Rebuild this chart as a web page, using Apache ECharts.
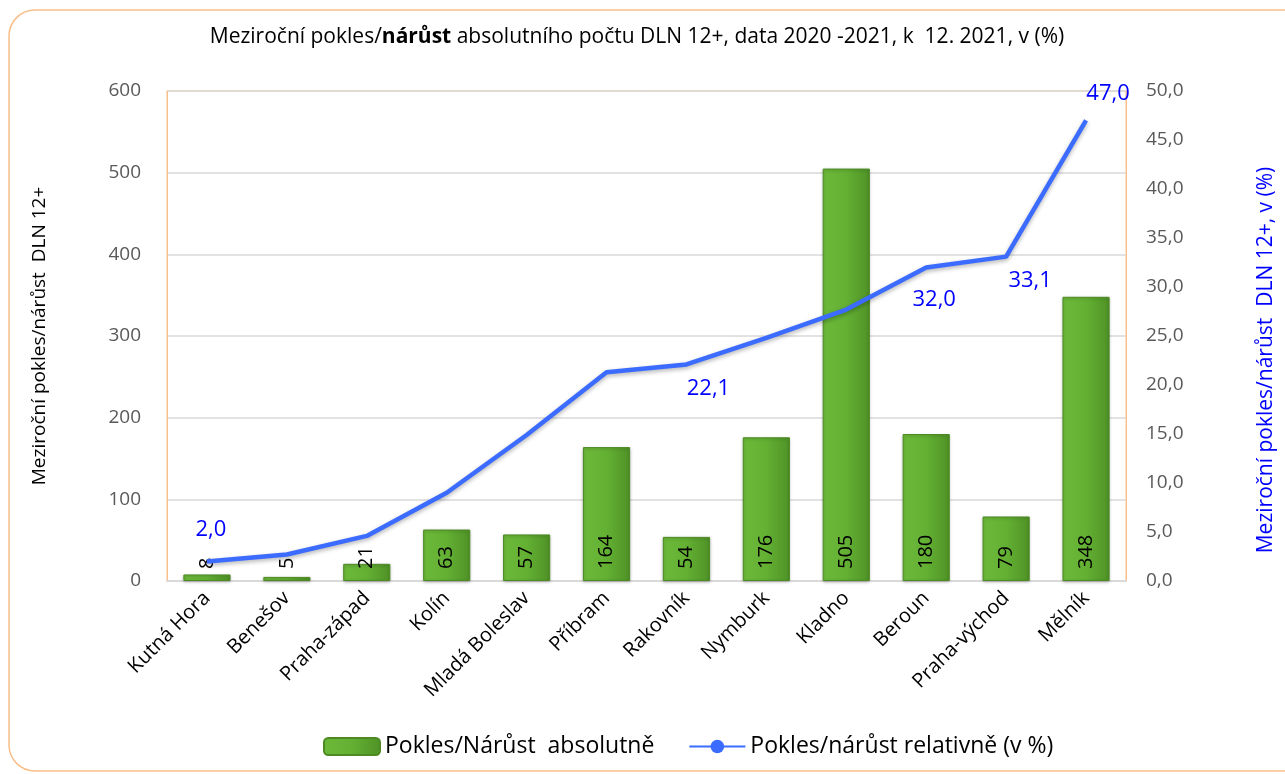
<!DOCTYPE html>
<html>
<head>
<meta charset="utf-8">
<script src="https://cdn.jsdelivr.net/npm/echarts@6/dist/echarts.min.js"></script>
<style>
  html, body { margin: 0; padding: 0; background: #fff; }
  #main { width: 1285px; height: 774px; }
</style>
</head>
<body>
<div id="main"></div>
<script>
// okresy
var categories = ["Kutná Hora", "Benešov", "Praha-západ", "Kolín", "Mladá Boleslav", "Příbram",
  "Rakovník", "Nymburk", "Kladno", "Beroun", "Praha-východ", "Mělník"];
// absolutní pokles/nárůst
var absValues = [8, 5, 21, 63, 57, 164, 54, 176, 505, 180, 79, 348];
// relativní pokles/nárůst v %
var relValues = [2.0, 2.7, 4.6, 9.0, 14.9, 21.3, 22.1, 24.8, 27.7, 32.0, 33.1, 47.0];
// které body mají popisek a kde
var relLabels = { 0: [4, -32], 6: [22, 24], 9: [8, 32], 10: [24, 24], 11: [22, -27] };

var comma = function (v, d) { return Number(v).toFixed(d).replace(".", ","); };

var myChart = echarts.init(document.getElementById("main"));

var lineData = relValues.map(function (v, i) {
  var item = { value: v };
  if (relLabels[i]) {
    item.label = { show: true, position: "inside", offset: relLabels[i] };
  }
  return item;
});

myChart.setOption({
  backgroundColor: "#fff",
  textStyle: { fontFamily: "Open Sans" },
  title: {
    text: "{n|Meziroční pokles/}{b|nárůst}{n| absolutního počtu DLN 12+, data 2020 -2021, k  12. 2021, v (%)}",
    left: 632,
    top: 22,
    textAlign: "center",
    textStyle: {
      fontWeight: "normal",
      fontSize: 21,
      rich: {
        n: { fontSize: 21, color: "#000", fontWeight: "normal", fontFamily: "Open Sans" },
        b: { fontSize: 21, color: "#000", fontWeight: "bold", fontFamily: "Open Sans" },
      },
    },
  },
  graphic: [
    {
      type: "rect",
      shape: { x: 9, y: 10, width: 1300, height: 761, r: 26 },
      style: { fill: "none", stroke: "#f9bf8a", lineWidth: 1.5 },
      silent: true,
    },
  ],
  legend: {
    bottom: 11,
    left: 318,
    itemGap: 34,
    itemWidth: 56,
    itemHeight: 17,
    textStyle: { fontSize: 23, color: "#000", fontFamily: "Open Sans" },
    data: [
      { name: "Pokles/Nárůst  absolutně" },
      { name: "Pokles/nárůst relativně (v %)", itemStyle: { color: "#3b6cff" } },
    ],
  },
  grid: {
    left: 167,
    right: 152,
    top: 91,
    bottom: 193,
    show: true,
    borderColor: "#f9bf8a",
    borderWidth: 1,
  },
  xAxis: {
    type: "category",
    data: categories,
    axisLine: { lineStyle: { color: "#d9d9d9", width: 2 } },
    axisTick: { show: false },
    axisLabel: {
      rotate: 45,
      interval: 0,
      color: "#000",
      fontSize: 20,
      margin: 14,
    },
  },
  yAxis: [
    {
      type: "value",
      min: 0,
      max: 600,
      interval: 100,
      name: "Meziroční pokles/nárůst  DLN 12+",
      nameLocation: "middle",
      nameGap: 118,
      nameRotate: 90,
      nameTextStyle: { fontSize: 19, color: "#000" },
      axisLine: { show: true, lineStyle: { color: "#f9bf8a" } },
      axisTick: { show: false },
      axisLabel: { color: "#595959", fontSize: 19, margin: 26 },
      splitLine: { lineStyle: { color: "#d9d9d9", width: 1.5 } },
    },
    {
      type: "value",
      min: 0,
      max: 50,
      interval: 5,
      name: "Meziroční pokles/nárůst  DLN 12+, v (%)",
      nameLocation: "middle",
      nameGap: 130,
      nameRotate: 90,
      nameTextStyle: { fontSize: 21, color: "#0000ff", padding: [0, 48, 0, 0] },
      axisLine: { show: true, lineStyle: { color: "#f9bf8a" } },
      axisTick: { show: false },
      axisLabel: {
        color: "#595959",
        fontSize: 19,
        margin: 20,
        formatter: function (v) { return comma(v, 1); },
      },
      splitLine: { show: false },
    },
  ],
  series: [
    {
      name: "Pokles/Nárůst  absolutně",
      type: "bar",
      yAxisIndex: 0,
      barWidth: "59%",
      data: absValues,
      itemStyle: {
        color: new echarts.graphic.LinearGradient(0, 0, 1, 0, [
          { offset: 0, color: "#6cb93a" },
          { offset: 0.5, color: "#63b033" },
          { offset: 1, color: "#4f9226" },
        ]),
        borderColor: "#4d8a24",
        borderWidth: 1,
        shadowColor: "rgba(0,0,0,0.25)",
        shadowBlur: 3,
        shadowOffsetY: 1,
      },
      label: {
        show: true,
        position: "insideBottom",
        rotate: 90,
        align: "left",
        verticalAlign: "middle",
        distance: 12,
        color: "#000",
        fontSize: 20,
      },
      z: 2,
    },
    {
      name: "Pokles/nárůst relativně (v %)",
      type: "line",
      yAxisIndex: 1,
      data: lineData,
      symbol: "circle",
      symbolSize: 0,
      showSymbol: true,
      lineStyle: {
        color: "#3b6cff",
        width: 4.5,
        shadowColor: "rgba(0,0,0,0.3)",
        shadowBlur: 4,
        shadowOffsetY: 2,
      },
      itemStyle: { color: "#3b6cff" },
      label: {
        show: false,
        color: "#0000ff",
        fontSize: 22,
        formatter: function (p) { return comma(p.value, 1); },
      },
      z: 3,
    },
  ],
});
</script>
</body>
</html>
